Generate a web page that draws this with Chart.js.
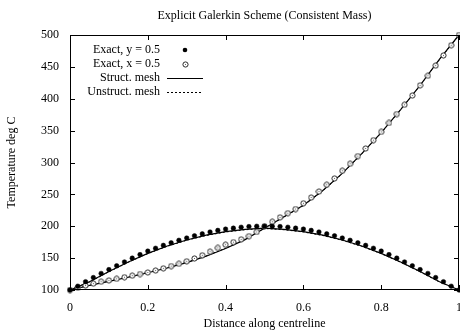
<!DOCTYPE html>
<html>
<head>
<meta charset="utf-8">
<script src="https://cdn.jsdelivr.net/npm/chart.js@4/dist/chart.umd.min.js"></script>
<style>
  html, body { margin: 0; padding: 0; background: #fff; }
  #wrap { width: 460px; height: 334px; }
</style>
</head>
<body>
<div id="wrap"><canvas id="chart"></canvas></div>
<script>
// exact solution sampled every 0.02 along the centrelines
const exactX = [
  0, 0.02, 0.04, 0.06, 0.08, 0.1, 0.12, 0.14, 0.16, 0.18,
  0.2, 0.22, 0.24, 0.26, 0.28, 0.3, 0.32, 0.34, 0.36, 0.38,
  0.4, 0.42, 0.44, 0.46, 0.48, 0.5, 0.52, 0.54, 0.56, 0.58,
  0.6, 0.62, 0.64, 0.66, 0.68, 0.7, 0.72, 0.74, 0.76, 0.78,
  0.8, 0.82, 0.84, 0.86, 0.88, 0.9, 0.92, 0.94, 0.96, 0.98, 1
];
const exactAlongY = [
  100, 106, 113, 119.5, 126, 132, 138, 144, 150, 155.5,
  161, 165.5, 170, 174, 178, 181.5, 185, 188, 191, 193.5,
  195.5, 197, 198.5, 199.5, 200, 200, 200, 199.5, 198.5, 197,
  195.5, 193.5, 191, 188, 185, 181.5, 178, 174, 170, 165.5,
  161, 155.5, 150, 144, 138, 132, 126, 119.5, 113, 106, 100
];
const exactAlongX = [
  100, 103.5, 107, 110, 113, 115, 117.5, 120, 122.5, 125,
  127.5, 130.5, 134, 137.5, 141, 145, 149.5, 154.5, 160, 166,
  171, 175, 179.5, 184.5, 191, 200, 207, 214, 220.5, 227,
  236, 245, 254.5, 265, 275, 287, 298, 310, 322, 335,
  348, 362, 376, 390.5, 405, 421, 436, 452, 468, 484, 500
];

// finite element nodes along the centrelines
const meshX = [
  0, 0.05, 0.1, 0.15, 0.2, 0.25, 0.3, 0.35, 0.4, 0.45, 0.5,
  0.55, 0.6, 0.65, 0.7, 0.75, 0.8, 0.85, 0.9, 0.95, 1
];
const structAlongY = [
  100, 113, 129, 144, 157.5, 169, 178.5, 186, 191.5, 195, 197,
  195, 191.5, 186, 178.5, 169, 157.5, 144, 129, 113, 100
];
const structAlongX = [
  100, 107, 113.5, 120, 127, 134.5, 143, 153, 165, 179, 197,
  215, 233, 256, 283, 314, 347, 383, 421, 462, 500
];
const unstructAlongY = [
  100, 112.5, 128.5, 143.5, 157, 168.5, 178, 185.5, 191, 194.5, 196.5,
  194.5, 191, 185.5, 178, 168.5, 157, 143.5, 128.5, 112.5, 100
];
const unstructAlongX = [
  100, 107.5, 114, 120.5, 127.5, 135, 143.5, 153.5, 165.5, 179.5, 197,
  214.5, 232.5, 255.5, 282.5, 313.5, 346.5, 383, 421, 461.5, 500
];

const xTicks = [0, 0.2, 0.4, 0.6, 0.8, 1];
const yTicks = [100, 150, 200, 250, 300, 350, 400, 450, 500];

const FONT = '"Liberation Serif", "Times New Roman", serif';

function pairs(xs, ys) {
  return xs.map((x, i) => ({ x, y: ys[i] }));
}

// open circle marker with a small centre dot
function ringMarker() {
  const c = document.createElement("canvas");
  c.width = 7;
  c.height = 7;
  const g = c.getContext("2d");
  g.beginPath();
  g.arc(3.5, 3.5, 2.6, 0, Math.PI * 2);
  g.fillStyle = "#fff";
  g.fill();
  g.lineWidth = 1;
  g.strokeStyle = "#2a2a2a";
  g.stroke();
  g.fillStyle = "#666";
  g.fillRect(3, 3, 1, 1);
  return c;
}
const ring = ringMarker();

// gnuplot style frame with inward ticks on all four sides
const framePlugin = {
  id: "frame",
  afterDraw(chart) {
    const { ctx, chartArea: a, scales } = chart;
    ctx.save();
    ctx.strokeStyle = "#000";
    ctx.lineWidth = 1;
    ctx.strokeRect(a.left + 0.5, a.top + 0.5, a.right - a.left - 1, a.bottom - a.top - 1);
    ctx.beginPath();
    scales.x.ticks.forEach((t) => {
      const px = Math.round(scales.x.getPixelForValue(t.value)) + 0.5;
      ctx.moveTo(px, a.bottom); ctx.lineTo(px, a.bottom - 5);
      ctx.moveTo(px, a.top); ctx.lineTo(px, a.top + 5);
    });
    scales.y.ticks.forEach((t) => {
      const py = Math.round(scales.y.getPixelForValue(t.value)) + 0.5;
      ctx.moveTo(a.left, py); ctx.lineTo(a.left + 5, py);
      ctx.moveTo(a.right, py); ctx.lineTo(a.right - 5, py);
    });
    ctx.stroke();
    ctx.restore();
  },
};

const titlePlugin = {
  id: "plotTitle",
  afterDraw(chart, args, opts) {
    const { ctx, chartArea: a } = chart;
    ctx.save();
    ctx.fillStyle = "#000";
    ctx.font = `12px ${FONT}`;
    ctx.textAlign = "center";
    ctx.textBaseline = "middle";
    ctx.fillText(opts.text, (a.left + a.right) / 2, 16);
    ctx.restore();
  },
};

// key in the top-left corner: text right-aligned, sample to its right
const keyPlugin = {
  id: "key",
  afterDraw(chart, args, opts) {
    const { ctx } = chart;
    const rows = chart.data.datasets.filter((d) => d.label);
    ctx.save();
    ctx.font = `12px ${FONT}`;
    ctx.textAlign = "right";
    ctx.textBaseline = "middle";
    rows.forEach((ds, i) => {
      const y = opts.top + i * opts.rowHeight;
      const cx = (opts.sampleLeft + opts.sampleRight) / 2;
      ctx.fillStyle = "#000";
      ctx.fillText(ds.label, opts.textRight, y);
      if (ds.showLine) {
        ctx.strokeStyle = "#000";
        ctx.lineWidth = ds.borderWidth;
        ctx.setLineDash(ds.borderDash || []);
        ctx.beginPath();
        ctx.moveTo(opts.sampleLeft, y + 0.5);
        ctx.lineTo(opts.sampleRight, y + 0.5);
        ctx.stroke();
        ctx.setLineDash([]);
      } else if (ds.pointStyle === ring) {
        ctx.drawImage(ring, Math.round(cx - 3.5), Math.round(y - 3.5));
      } else {
        ctx.beginPath();
        ctx.arc(cx, y, ds.pointRadius, 0, Math.PI * 2);
        ctx.fillStyle = ds.pointBackgroundColor;
        ctx.fill();
      }
    });
    ctx.restore();
  },
};

new Chart(document.getElementById("chart"), {
  type: "scatter",
  data: {
    datasets: [
      {
        label: "Exact, y = 0.5",
        data: pairs(exactX, exactAlongY),
        showLine: false,
        pointRadius: 2.3,
        pointBackgroundColor: "#000",
        pointBorderColor: "#000",
        pointBorderWidth: 0.5,
        clip: false,
      },
      {
        label: "Exact, x = 0.5",
        data: pairs(exactX, exactAlongX),
        showLine: false,
        pointStyle: ring,
        pointRadius: 3,
        clip: false,
      },
      {
        label: "Struct. mesh",
        data: pairs(meshX, structAlongY),
        showLine: true,
        borderColor: "#000",
        borderWidth: 1.2,
        pointRadius: 0,
        clip: false,
      },
      {
        label: "Unstruct. mesh",
        data: pairs(meshX, unstructAlongY),
        showLine: true,
        borderColor: "#000",
        borderWidth: 1,
        borderDash: [2, 2],
        pointRadius: 0,
        clip: false,
      },
      {
        data: pairs(meshX, structAlongX),
        showLine: true,
        borderColor: "#000",
        borderWidth: 1.2,
        pointRadius: 0,
        clip: false,
      },
      {
        data: pairs(meshX, unstructAlongX),
        showLine: true,
        borderColor: "#000",
        borderWidth: 1,
        borderDash: [2, 2],
        pointRadius: 0,
        clip: false,
      },
    ],
  },
  plugins: [framePlugin, titlePlugin, keyPlugin],
  options: {
    responsive: true,
    maintainAspectRatio: false,
    animation: false,
    layout: { autoPadding: false, padding: { top: 35, right: 1, left: 0, bottom: 0 } },
    scales: {
      x: {
        type: "linear",
        min: 0,
        max: 1,
        grid: { display: false },
        border: { display: false },
        afterBuildTicks(scale) {
          scale.ticks = xTicks.map((v) => ({ value: v }));
        },
        ticks: {
          padding: 3,
          maxRotation: 0,
          color: "#000",
          font: { family: FONT, size: 12 },
          callback: (v) => String(v),
        },
        title: {
          display: true,
          text: "Distance along centreline",
          color: "#000",
          font: { family: FONT, size: 12 },
          padding: { top: 0, bottom: 3 },
        },
        afterFit(scale) {
          scale.height = 44;
          scale.paddingLeft = 0;
          scale.paddingRight = 0;
        },
      },
      y: {
        type: "linear",
        min: 100,
        max: 500,
        grid: { display: false },
        border: { display: false },
        afterBuildTicks(scale) {
          scale.ticks = yTicks.map((v) => ({ value: v }));
        },
        ticks: {
          padding: 3,
          color: "#000",
          font: { family: FONT, size: 12 },
        },
        title: {
          display: true,
          text: "Temperature deg C",
          color: "#000",
          font: { family: FONT, size: 12 },
          padding: { top: 5, bottom: 0 },
        },
        afterFit(scale) {
          scale.width = 70;
          scale.paddingTop = 0;
          scale.paddingBottom = 0;
        },
      },
    },
    plugins: {
      legend: { display: false },
      tooltip: { enabled: false },
      plotTitle: { text: "Explicit Galerkin Scheme (Consistent Mass)" },
      key: { top: 50, rowHeight: 14, textRight: 160, sampleLeft: 167, sampleRight: 203 },
    },
  },
});
</script>
</body>
</html>
